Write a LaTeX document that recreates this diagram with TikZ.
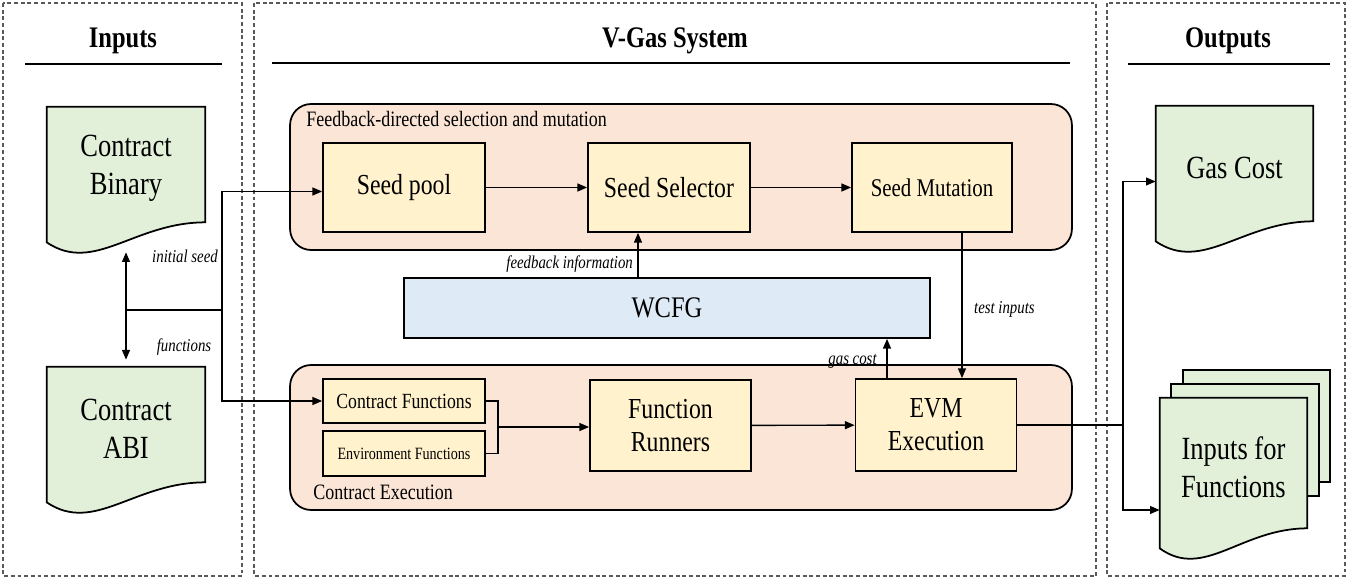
\documentclass[tikz,border=0pt]{standalone}
\usepackage{xcolor}
\usepackage{fontspec}
\setmainfont{Liberation Serif}[FakeStretch=0.82]
\usepackage{tikz}
\usetikzlibrary{arrows.meta,positioning,calc}
\pgfdeclarelayer{bg}
\pgfsetlayers{bg,main}
\definecolor{peach}{HTML}{FBE5D6}
\definecolor{boxyellow}{HTML}{FFF2CC}
\definecolor{docgreen}{HTML}{E2F0D9}
\definecolor{wcfgblue}{HTML}{DEEBF7}
\definecolor{dashgray}{HTML}{595959}

\begin{document}
\begin{tikzpicture}[
			x = 0.02cm, y = -0.02cm,
			every node/.style = {inner sep = 0pt},
			arr/.style = {line width = 0.8pt, -{Triangle[length=5.5pt,width=4.5pt]}},
			conn/.style = {line width = 0.8pt},
			panel/.style = {draw = dashgray, line width = 0.6pt, dash pattern = on 2.2pt off 1.6pt},
			title/.style = {font = \fontsize{17}{20}\selectfont\bfseries, anchor = base},
			rule/.style = {line width = 1.4pt},
			group/.style = {draw, line width = 1pt, fill = peach, rounded corners = 0.42cm, minimum width = 15.64cm},
			glabel/.style = {font = \fontsize{12.5}{14}\selectfont, anchor = west},
			box/.style = {draw, line width = 1pt, fill = boxyellow, align = center, minimum width = 3.24cm, minimum height = 1.78cm, font = \fontsize{16.5}{18.7}\selectfont},
			fbox/.style = {draw, line width = 1pt, fill = boxyellow, minimum width = 3.24cm, minimum height = 0.89cm},
			doc/.style = {align = center, minimum height = 2.3cm, font = \fontsize{18.4}{21.5}\selectfont},
			sheet/.style = {draw, line width = 1pt, fill = docgreen},
			lbl/.style = {font = \fontsize{10.3}{12}\selectfont\itshape, inner sep = 2.5pt}
			]

			\useasboundingbox (0,0) rectangle (1353,580);

			\draw[panel] (3,3) rectangle (242,576);
			\draw[panel] (254,3) rectangle (1096,576);
			\draw[panel] (1107,3) rectangle (1345,576);

			\node[title] (tin) at (123,48) {Inputs};
			\node[title] (tsys) at (675,48) {V-Gas System};
			\node[title] (tout) at (1228,48) {Outputs};
			\draw[rule] (25,64) -- (222,64);
			\draw[rule] (272,63) -- (1070,63);
			\draw[rule] (1128,64) -- (1330,64);

			\node[group, minimum height = 2.92cm] (fdsm) at (681,177) {};
			\node[glabel] at (306,119) {Feedback-directed selection and mutation};
			\node[group, minimum height = 2.9cm] (cexe) at (681,437.5) {};
			\node[glabel] at (313,492) {Contract Execution};

			\node[box] (pool) at (404,187.5) {Seed pool};
			\node[box] (select) at (669,187.5) {Seed Selector};
			\node[box, minimum width = 3.2cm, font = \fontsize{14.5}{17}\selectfont] (mutate) at (932,187.5) {Seed Mutation};
			\node[box, fill = wcfgblue, minimum width = 10.52cm, minimum height = 1.2cm, font = \fontsize{17}{20}\selectfont] (wcfg) at (667,308) {WCFG};

			\node[fbox, font = \fontsize{12.3}{14}\selectfont] (cfun) at (404,401) {Contract Functions};
			\node[fbox, font = \fontsize{9.8}{12}\selectfont] (efun) at (404,453.5) {Environment Functions};
			\node[box, minimum width = 3.22cm, minimum height = 1.82cm] (runner) at (670.5,425.5) {Function\\Runners};
			\node[box, minimum width = 3.22cm, minimum height = 1.84cm] (evm) at (936,425) {EVM\\Execution};

			\node[doc, minimum width = 3.16cm] (bin) at (126,168.5) {Contract\\Binary};
			\node[doc, minimum width = 3.16cm] (abi) at (126,428.5) {Contract\\ABI};
			\node[doc, minimum width = 3.14cm] (gas) at (1234.5,167.5) {Gas Cost};
			\node[doc, minimum width = 2.94cm, minimum height = 2.6cm] (inp) at (1233.5,467) {Inputs for\\Functions};

			\begin{pgfonlayer}{bg}
				\foreach \d in {2,1}{
					\draw[sheet] ($(inp.north west)+(11.5*\d,-14*\d-4)$) rectangle ($(inp.north east)+(11.5*\d,108-14*\d)$);
				}
				\foreach \n in {bin,abi,gas,inp}{
					\draw[sheet] ($(\n.north west)+(0,-4)$) -- ($(\n.north east)+(0,-4)$) -- ($(\n.south east)+(0,-4)$)
						.. controls ($(\n.south east)!0.45!(\n.south west)+(0,-4)$) and ($(\n.south west)!0.3!(\n.south east)+(0,48)$)
						.. ($(\n.south west)+(0,16)$) -- cycle;
				}
			\end{pgfonlayer}

			\coordinate (mid) at (126,310);
			\coordinate (join) at (222,310);
			\draw[conn, {Triangle[length=5.5pt,width=4.5pt]}-{Triangle[length=5.5pt,width=4.5pt]}] ($(bin.south)+(0,26)$) -- ($(abi.north)+(0,-11)$);
			\draw[conn] (mid) -- (join);
			\draw[arr] (join) |- ($(pool.west)+(0,4)$);
			\draw[arr] (join) |- (cfun.west);
			\node[lbl] (lseed) at (185,256) {initial seed};
			\node[lbl] (lfun) at (184,347) {functions};

			\draw[arr] (pool) -- (select);
			\draw[arr] (select) -- (mutate);

			\coordinate (fb) at (638,278);
			\draw[arr] (fb) -- (fb |- select.south) node[lbl, pos = 0.3, left] {feedback information};
			\coordinate (ti) at (962,232);
			\draw[arr] (ti) -- (ti |- evm.north) node[lbl, pos = 0.53, right, xshift = 4pt] {test inputs};
			\coordinate (gc) at (887,379);
			\draw[arr] (gc) -- (gc |- wcfg.south) node[lbl, pos = 0.45, left, xshift = -3pt] {gas cost};

			\coordinate (brk) at (498,427);
			\draw[conn] (cfun.east) -| (brk) |- (efun.east);
			\draw[arr] (brk) -- (brk -| runner.west);
			\draw[arr] (runner) -- (evm);

			\coordinate (split) at (1123,425);
			\draw[conn] (evm.east) -- (split);
			\draw[arr] (split) |- ($(gas.west)+(0,14)$);
			\draw[arr] (split) |- ($(inp.west)+(0,43)$);

		\end{tikzpicture}
\end{document}
